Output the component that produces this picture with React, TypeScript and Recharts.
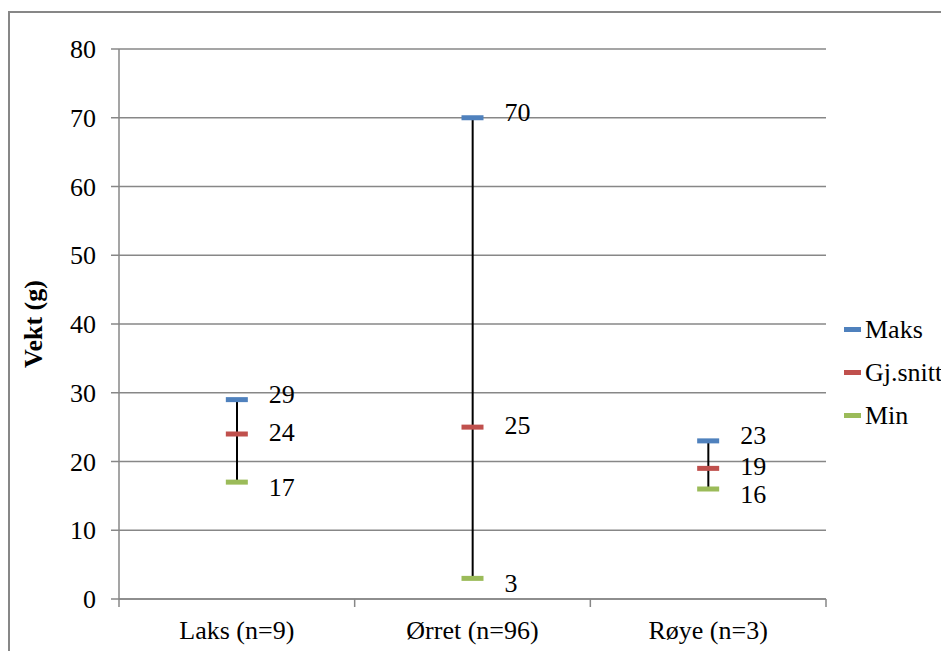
import React from 'react';
import {
  ComposedChart, Bar, Line, XAxis, YAxis, CartesianGrid, LabelList,
} from 'recharts';

const categories = ['Laks (n=9)', 'Ørret (n=96)', 'Røye (n=3)'];
const maksValues = [29, 70, 23];
const snittValues = [24, 25, 19];
const minValues = [17, 3, 16];
const yTicks = [0, 10, 20, 30, 40, 50, 60, 70, 80];

const series = [
  { key: 'maks', name: 'Maks', color: '#4f81bd', dy: -5 },
  { key: 'snitt', name: 'Gj.snitt', color: '#c0504d', dy: -1 },
  { key: 'min', name: 'Min', color: '#9bbb59', dy: 6 },
];

const data = categories.map((name, i) => ({
  name,
  pos: i + 0.5,
  maks: maksValues[i],
  snitt: snittValues[i],
  min: minValues[i],
  range: [minValues[i], maksValues[i]],
}));

const FONT = 'Liberation Serif';
const FS = 26;
const GRID = '#878787';

const makeDash = (color: string) => (props: any) => {
  const { cx, cy, index } = props;
  if (cx == null || cy == null) return <g key={index} />;
  return <rect key={index} x={cx - 11} y={cy - 2.5} width={22} height={5} fill={color} />;
};

const makeLabel = (dy: number) => (props: any) => {
  const { x, y, value, index } = props;
  return (
    <text key={index} x={x + 32} y={y + dy} dy={8} fontSize={FS} fontFamily={FONT} fill="#000">
      {value}
    </text>
  );
};

const XTick = (props: any) => {
  const { x, y, payload } = props;
  const v = payload.value;
  if (Number.isInteger(v)) {
    return <line x1={x} x2={x} y1={y - 8} y2={y} stroke={GRID} strokeWidth={1.5} />;
  }
  return (
    <text x={x} y={y + 32} textAnchor="middle" fontSize={FS} fontFamily={FONT} fill="#000">
      {categories[Math.floor(v)]}
    </text>
  );
};

const YLabel = (props: any) => {
  const { viewBox } = props;
  const cy = viewBox.y + viewBox.height / 2;
  return (
    <text
      x={23}
      y={cy}
      transform={`rotate(-90, 23, ${cy})`}
      textAnchor="middle"
      dominantBaseline="central"
      fontSize={FS}
      fontWeight="bold"
      fontFamily={FONT}
      fill="#000"
    >
      Vekt (g)
    </text>
  );
};

export default function App() {
  return (
    <div
      style={{
        position: 'relative',
        marginTop: 3,
        width: 939,
        height: 638,
        borderTop: `2px solid ${GRID}`,
        borderLeft: `2px solid ${GRID}`,
        overflow: 'hidden',
        fontFamily: FONT,
      }}
    >
      <ComposedChart
        width={939}
        height={638}
        data={data}
        margin={{ top: 36, right: 123, bottom: 12, left: 0 }}
      >
        <CartesianGrid vertical={false} stroke={GRID} strokeWidth={1.5} />
        <XAxis
          dataKey="pos"
          type="number"
          domain={[0, 3]}
          ticks={[0, 0.5, 1, 1.5, 2, 2.5, 3]}
          interval={0}
          height={40}
          tickLine={false}
          tickSize={8}
          tickMargin={0}
          axisLine={{ stroke: GRID, strokeWidth: 1.5 }}
          tick={<XTick />}
        />
        <YAxis
          domain={[0, 80]}
          ticks={yTicks}
          interval={0}
          width={109}
          tickSize={8}
          tickMargin={15}
          axisLine={{ stroke: GRID, strokeWidth: 1.5 }}
          tickLine={{ stroke: GRID, strokeWidth: 1.5 }}
          tick={{ fontSize: FS, fontFamily: FONT, fill: '#000' }}
          label={<YLabel />}
        />
        <Bar dataKey="range" barSize={2} fill="#000" isAnimationActive={false} />
        {series.map((s) => (
          <Line
            key={s.key}
            dataKey={s.key}
            name={s.name}
            stroke="none"
            dot={makeDash(s.color)}
            activeDot={false}
            isAnimationActive={false}
          >
            <LabelList dataKey={s.key} content={makeLabel(s.dy)} />
          </Line>
        ))}
      </ComposedChart>
      <div style={{ position: 'absolute', left: 834, top: 295 }}>
        {series.map((s) => (
          <div key={s.key} style={{ display: 'flex', alignItems: 'center', height: 43, fontSize: FS, fontFamily: FONT, whiteSpace: 'nowrap' }}>
            <span style={{ width: 17, height: 5, background: s.color, marginRight: 4 }} />
            <span>{s.name}</span>
          </div>
        ))}
      </div>
    </div>
  );
}
